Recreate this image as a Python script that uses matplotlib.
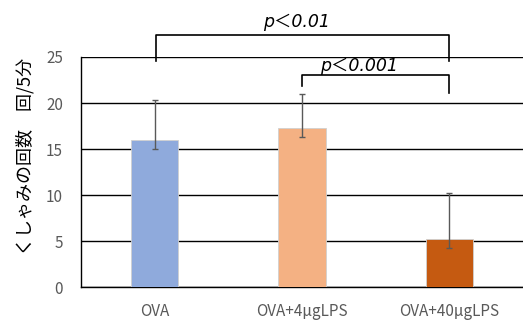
import matplotlib
matplotlib.use("Agg")
import matplotlib.pyplot as plt
import numpy as np

plt.rcParams['font.family'] = ['Noto Sans CJK JP', 'DejaVu Sans']

# data
groups = ["OVA", "OVA+4μgLPS", "OVA+40μgLPS"]
means = [16.0, 17.3, 5.2]
err_low = [1.0, 1.0, 0.95]
err_high = [4.3, 3.7, 5.0]
colors = ["#8FAADC", "#F4B183", "#C55A11"]
yticks = [0, 5, 10, 15, 20, 25]
ylabel = "くしゃみの回数　回/5分"

fig = plt.figure(figsize=(5.23, 3.2), dpi=100)
ax = fig.add_axes([81 / 523, 1 - 287.3 / 320, 442 / 523, 230.3 / 320])

x = np.arange(len(groups))
ax.bar(x, means, width=0.32, color=colors, edgecolor="#d0d0d0", linewidth=0.6, zorder=3)
ax.errorbar(x, means, yerr=[err_low, err_high], fmt="none", ecolor="#595959",
            elinewidth=1, capsize=2.5, capthick=1, zorder=4)

ax.set_xlim(-0.5, 2.5)
ax.set_ylim(0, 25)
ax.set_yticks(yticks)
ax.set_xticks(x)
ax.set_xticklabels(groups)
ax.grid(axis="y", color="black", linewidth=1, zorder=0)
ax.tick_params(axis="both", length=0, colors="#595959", labelsize=11)
ax.tick_params(axis="x", pad=11)
ax.tick_params(axis="y", pad=13)
for s in ["top", "right"]:
    ax.spines[s].set_visible(False)
for s in ["left", "bottom"]:
    ax.spines[s].set_color("black")
    ax.spines[s].set_linewidth(1)

fig.text(25 / 523, 1 - 156 / 320, ylabel, rotation=90, ha="center", va="center", fontsize=13)

# significance brackets
def bracket(x1, x2, y, yl1, yl2, label, tx, ty):
    ax.plot([x1, x1, x2, x2], [yl1, y, y, yl2], color="black", linewidth=1.2,
            clip_on=False, zorder=5)
    ax.text(tx, ty, label, ha="center", va="center", fontsize=12.5, style="italic",
            family=["DejaVu Sans", "Noto Sans CJK JP"], clip_on=False)

bracket(0.01, 2.0, 27.35, 24.6, 24.6, "p＜0.01", 0.96, 28.8)
bracket(1.0, 2.0, 23.1, 21.8, 21.1, "p＜0.001", 1.385, 24.05)

fig.savefig("out.png", dpi=100)
